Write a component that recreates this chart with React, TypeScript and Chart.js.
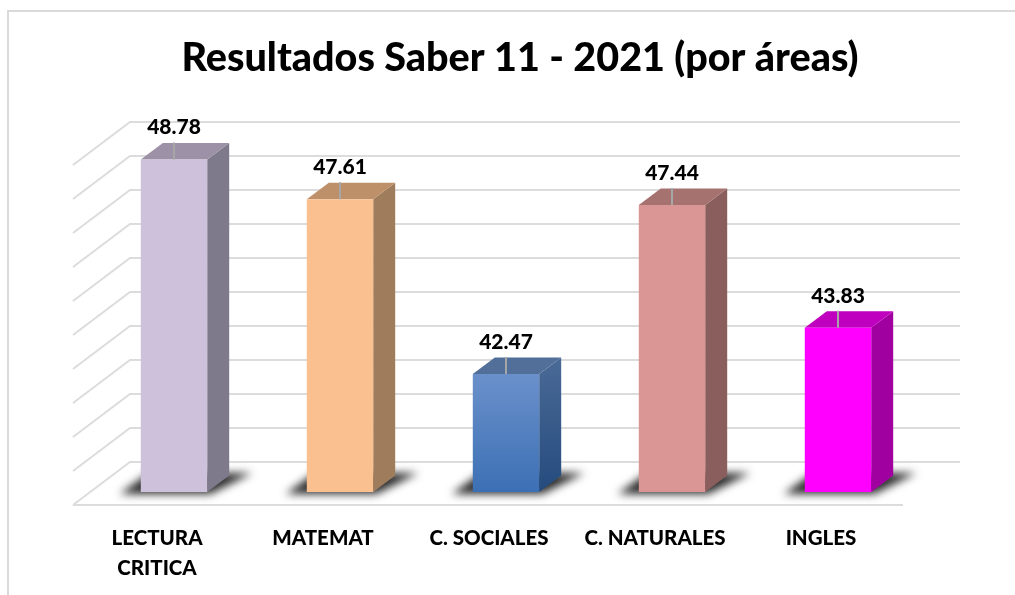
import React, { useEffect, useRef } from "react";
import { Chart, registerables } from "chart.js";

Chart.register(...registerables);

const categories = [["LECTURA", "CRITICA"], "MATEMAT", "C. SOCIALES", "C. NATURALES", "INGLES"];
const values = [48.78, 47.61, 42.47, 47.44, 43.83];
const frontColors = ["#CDC1DC", "#FAC090", "#5B87C4", "#D99694", "#FF00FF"];
const topColors = ["#9C91A6", "#BD9069", "#526F99", "#A67270", "#BF00BF"];
const sideColors = ["#7F7A8B", "#9F7C5B", "#36587F", "#8A5E5D", "#A000A0"];
const axisMin = 39;
const axisMax = 49;
const titleText = "Resultados Saber 11 - 2021 (por áreas)";
const fontFamily = "Lato, Carlito, 'Open Sans', sans-serif";

const GRID = "#dcdcdc";
const wall = { dx: 39, dy: 30 }; // from bar front plane to back wall
const front = { dx: 18, dy: 13 }; // from bar front plane to floor front
const depth = { dx: 22, dy: 16.5 }; // bar depth

const depthPlugin = {
  id: "depth3d",
  afterLayout(chart: any) {
    const t = chart.titleBlock;
    if (t) {
      t.left += 14;
      t.right += 14;
    }
  },
  beforeDraw(chart: any) {
    const { ctx, width, height } = chart;
    ctx.save();
    ctx.strokeStyle = "#dadada";
    ctx.lineWidth = 2;
    ctx.beginPath();
    ctx.moveTo(8, height);
    ctx.lineTo(8, 11);
    ctx.lineTo(width, 11);
    ctx.stroke();
    ctx.restore();
  },
  beforeDatasetsDraw(chart: any) {
    const { ctx, chartArea, scales } = chart;
    const y = scales.y;
    ctx.save();
    ctx.strokeStyle = GRID;
    ctx.lineWidth = 2;
    y.ticks.forEach((tick: any) => {
      const py = y.getPixelForValue(tick.value);
      ctx.beginPath();
      ctx.moveTo(chartArea.left - front.dx, py + front.dy);
      ctx.lineTo(chartArea.left + wall.dx, py - wall.dy);
      ctx.lineTo(chartArea.right + wall.dx, py - wall.dy);
      ctx.stroke();
    });
    const by = y.getPixelForValue(axisMin);
    ctx.beginPath();
    ctx.moveTo(chartArea.left - front.dx, by + front.dy);
    ctx.lineTo(chartArea.right - front.dx, by + front.dy);
    ctx.stroke();

    const meta = chart.getDatasetMeta(0);
    meta.data.forEach((bar: any, i: number) => {
      const x0 = bar.x - bar.width / 2;
      const x1 = bar.x + bar.width / 2;
      const top = bar.y;
      const base = bar.base;
      // floor shadow
      ctx.save();
      ctx.filter = "blur(4px)";
      ctx.fillStyle = "rgba(25,25,25,0.92)";
      ctx.beginPath();
      ctx.moveTo(x0 - 21, base + 2);
      ctx.lineTo(x1 + 3, base + 2);
      ctx.lineTo(x1 + 45, base - 19);
      ctx.lineTo(x0 + 8, base - 19);
      ctx.closePath();
      ctx.fill();
      ctx.restore();
      // side face
      if (i === 2) {
        const g = ctx.createLinearGradient(0, top - depth.dy, 0, base);
        g.addColorStop(0, "#4A6A96");
        g.addColorStop(1, "#254B7E");
        ctx.fillStyle = g;
      } else {
        ctx.fillStyle = sideColors[i];
      }
      ctx.beginPath();
      ctx.moveTo(x1, top);
      ctx.lineTo(x1 + depth.dx, top - depth.dy);
      ctx.lineTo(x1 + depth.dx, base - depth.dy);
      ctx.lineTo(x1, base);
      ctx.closePath();
      ctx.fill();
      // top face
      ctx.fillStyle = topColors[i];
      ctx.beginPath();
      ctx.moveTo(x0, top);
      ctx.lineTo(x0 + depth.dx, top - depth.dy);
      ctx.lineTo(x1 + depth.dx, top - depth.dy);
      ctx.lineTo(x1, top);
      ctx.closePath();
      ctx.fill();
    });
    ctx.restore();
  },
  afterDatasetsDraw(chart: any) {
    const { ctx } = chart;
    const meta = chart.getDatasetMeta(0);
    ctx.save();
    meta.data.forEach((bar: any, i: number) => {
      ctx.strokeStyle = "#A6A6A6";
      ctx.lineWidth = 2;
      ctx.beginPath();
      ctx.moveTo(bar.x, bar.y - 17);
      ctx.lineTo(bar.x, bar.y);
      ctx.stroke();
      ctx.fillStyle = "#000000";
      ctx.font = `900 21px ${fontFamily}`;
      ctx.textAlign = "center";
      ctx.textBaseline = "middle";
      ctx.fillText(values[i].toFixed(2), bar.x, bar.y - 32);
    });
    ctx.restore();
  },
};

export default function App() {
  const ref = useRef<HTMLCanvasElement>(null);
  useEffect(() => {
    document.body.style.margin = "0";
    const canvas = ref.current!;
    const chart = new Chart(canvas, {
      type: "bar",
      data: {
        labels: categories as any,
        datasets: [
          {
            data: values,
            base: axisMin,
            backgroundColor: (c: any) => {
              if (c.dataIndex !== 2 || !c.chart.chartArea) return frontColors[c.dataIndex];
              const g = c.chart.ctx.createLinearGradient(0, 375, 0, 492);
              g.addColorStop(0, "#6A90CB");
              g.addColorStop(1, "#3C70B4");
              return g;
            },
            barPercentage: 0.4,
            categoryPercentage: 1,
          },
        ],
      },
      options: {
        animation: false,
        responsive: false,
        layout: { padding: { left: 91, right: 94, top: 0, bottom: 0 } },
        plugins: {
          legend: { display: false },
          tooltip: { enabled: false },
          title: {
            display: true,
            text: titleText,
            color: "#000000",
            font: { family: fontFamily, size: 39.5, weight: "900", lineHeight: 1.2 },
            padding: { top: 35, bottom: 69.6 },
          },
        },
        scales: {
          x: {
            grid: { display: false, drawTicks: false },
            border: { display: false },
            afterFit: (s: any) => {
              s.height = 103;
            },
            ticks: {
              color: "#000000",
              font: { family: fontFamily, size: 20.5, weight: "900", lineHeight: 1.47 },
              labelOffset: -17,
              maxRotation: 0,
              minRotation: 0,
              autoSkip: false,
              padding: 31,
            },
          },
          y: {
            display: false,
            min: axisMin,
            max: axisMax,
            ticks: { stepSize: 1 },
          },
        },
      },
      plugins: [depthPlugin],
    } as any);
    return () => chart.destroy();
  }, []);
  return <canvas ref={ref} width={1015} height={595} style={{ display: "block", width: 1015, height: 595 }} />;
}
